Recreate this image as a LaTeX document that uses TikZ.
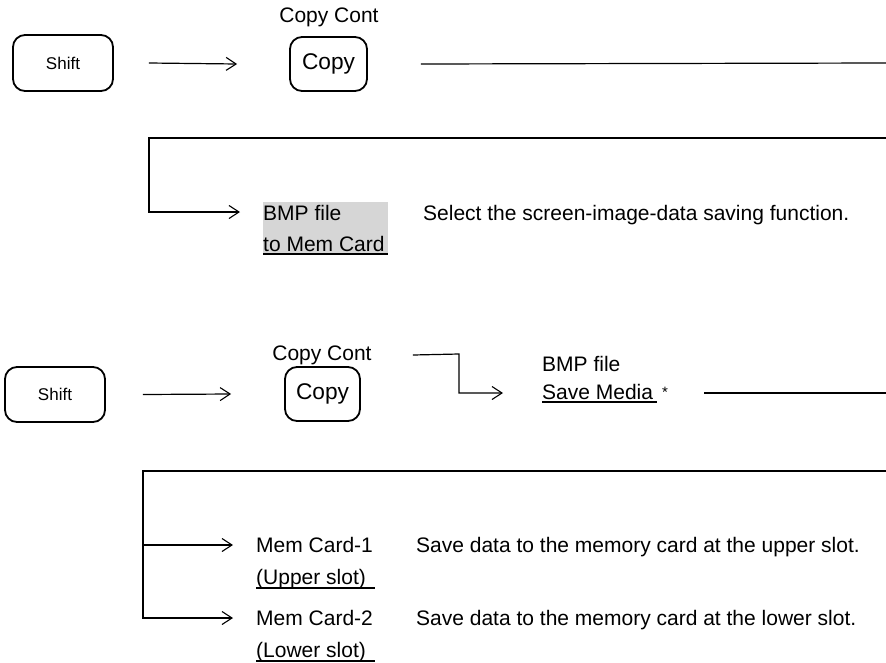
\documentclass[tikz,border=0pt]{standalone}
\usepackage{fontspec}
\setmainfont{Liberation Sans}
\usetikzlibrary{arrows.meta}
\begin{document}
\begin{tikzpicture}[x=1pt,y=-1pt,
  keybox/.style={draw, line width=1.8pt, rounded corners=12pt, inner sep=0pt},
  conn/.style={line width=1.2pt},
  arr/.style={conn, -{Straight Barb[length=10pt,width=13pt,line width=1.1pt]}},
  txt/.style={anchor=base west, inner sep=0pt, font=\fontsize{21}{24}\selectfont},
  ctxt/.style={inner sep=0pt, font=\fontsize{21}{24}\selectfont},
  ul/.style={line width=1.1pt},
]
\useasboundingbox (0,0) rectangle (886,662);

% ---------- Section 1 ----------
\node[keybox, minimum width=100pt, minimum height=56pt, font=\fontsize{17}{19}\selectfont] (shift1) at (63,63) {Shift};
\node[keybox, minimum width=77pt, minimum height=54pt, font=\fontsize{22.7}{26}\selectfont] (copy1) at (328.5,64) {Copy};
\node[ctxt] (cc1) at (329,17) {Copy Cont};
\coordinate (r1) at (886,63);
\draw[arr] ([xshift=35pt]shift1.east) -- ([xshift=-52pt]copy1.west);
\draw[conn] ([xshift=53pt]copy1.east) -- (r1);

\node[fill=black!16, minimum width=125pt, minimum height=53pt, inner sep=0pt, anchor=north west] (bmpbg) at (263,202) {};
\node[txt] (bmp1) at (263,220) {BMP file};
\node[txt] (mem1) at (263,251) {to Mem Card};
\draw[ul] ([yshift=-3pt]mem1.base west) -- ([yshift=-3pt,xshift=3pt]mem1.base east);
\node[txt] (sel1) at (423,220) {Select the screen-image-data saving function.};

\coordinate (r2) at (886,138);
\coordinate (k1) at (149,138);
\coordinate (t1) at (240,212);
\draw[arr] (r2) -- (k1) |- (t1);

% ---------- Section 2 ----------
\node[keybox, minimum width=100pt, minimum height=55pt, font=\fontsize{17}{19}\selectfont] (shift2) at (55,394.5) {Shift};
\node[keybox, minimum width=75pt, minimum height=54pt, font=\fontsize{22.7}{26}\selectfont] (copy2) at (322.5,394) {Copy};
\node[ctxt] (cc2) at (322,355) {Copy Cont};
\draw[arr] ([xshift=37pt]shift2.east) -- ([xshift=-53pt]copy2.west);

\node[txt] (bmp2) at (542,371) {BMP file};
\node[txt] (save2) at (542,399) {Save Media};
\draw[ul] ([yshift=-3pt]save2.base west) -- ([yshift=-3pt,xshift=4pt]save2.base east);
\node[anchor=base west, inner sep=0pt, font=\fontsize{15}{16}\selectfont] (star) at (662,397) {*};

\coordinate (k2) at (459,354);
\coordinate (t2) at (503,393);
\draw[arr] ([xshift=41pt]cc2.east) -- (k2) |- (t2);
\coordinate (r3) at (886,393);
\draw[conn] ([xshift=36pt]star.east |- r3) -- (r3);

\coordinate (r4) at (886,471);
\coordinate (k4) at (143,471);
\coordinate (t4a) at (233,545);
\coordinate (t4b) at (233,618);
\draw[arr] (r4) -- (k4) |- (t4b);
\draw[arr] (k4 |- t4a) -- (t4a);

\node[txt] (mc1) at (256,552) {Mem Card-1};
\node[txt] (up1) at (256,584) {(Upper slot)};
\draw[ul] ([yshift=-4pt]up1.base west) -- ([yshift=-4pt,xshift=9pt]up1.base east);
\node[txt] (mc2) at (256,625) {Mem Card-2};
\node[txt] (lo2) at (256,657) {(Lower slot)};
\draw[ul] ([yshift=-4pt]lo2.base west) -- ([yshift=-4pt,xshift=9pt]lo2.base east);

\node[txt] (d1) at (416,552) {Save data to the memory card at the upper slot.};
\node[txt] (d2) at (416,625) {Save data to the memory card at the lower slot.};
\end{tikzpicture}
\end{document}
